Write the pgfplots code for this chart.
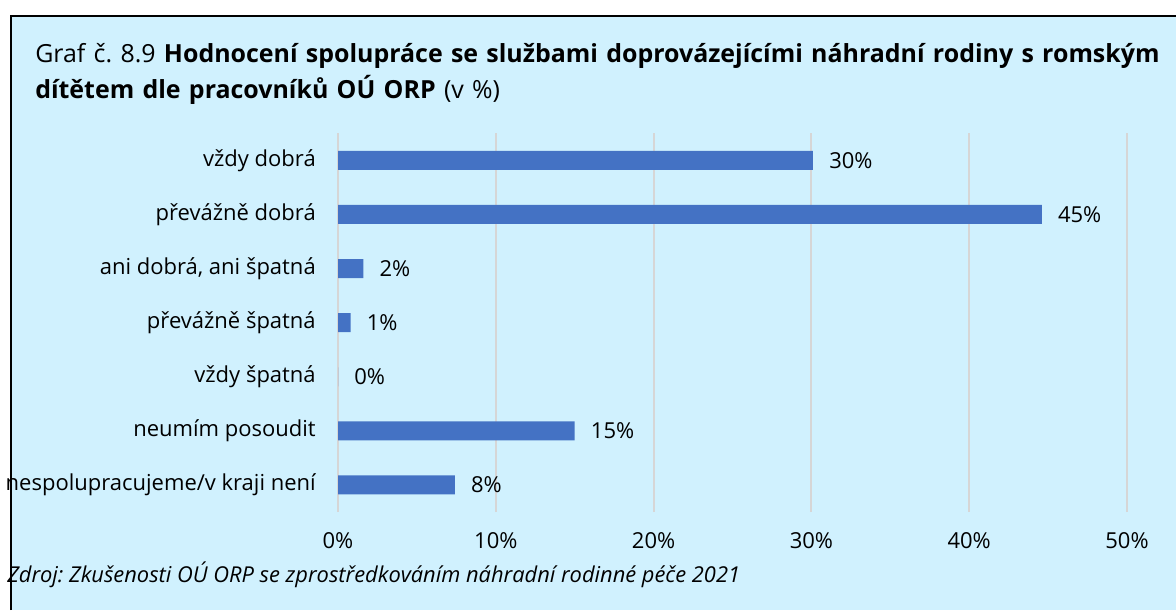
\documentclass[border=0pt]{standalone}
\usepackage{pgfplots}
\pgfplotsset{compat=1.18}
\usepackage{fontspec}
\setmainfont{Open Sans}
\frenchspacing
\definecolor{bgblue}{HTML}{D0F1FE}
\definecolor{barblue}{HTML}{4472C4}
\definecolor{gridgray}{HTML}{D6D6D6}
\begin{document}
\begin{tikzpicture}[x=0.75pt,y=0.75pt]
\useasboundingbox (0,0) rectangle (1176,610);
\path[fill=white] (0,0) rectangle (1176,610);
\path[fill=bgblue] (11,0) rectangle (1176,594);
\draw[line width=2.2pt] (11,0) -- (11,594) -- (1176,594);
\node[anchor=base west, align=left, text width=858pt, font=\fontsize{18.7}{26.5}\selectfont, inner sep=0pt] at (35,547)
 {Graf č. 8.9 \textbf{Hodnocení spolupráce se službami doprovázejícími náhradní rodiny s romským dítětem dle pracovníků OÚ ORP} (v \%)};
\begin{axis}[
  at={(253.5pt,73.5pt)}, anchor=south west,
  scale only axis,
  width=591.75pt, height=284pt,
  xmin=0, xmax=50, ymin=-0.5, ymax=6.5,
  axis line style={draw=none},
  xmajorgrids, grid style={gridgray, line width=1.4pt},
  xtick={0,10,...,50},
  xticklabels={0\%,10\%,20\%,30\%,40\%,50\%},
  ytick={0,...,6},
  yticklabels={nespolupracujeme/v kraji není,neumím posoudit,vždy špatná,převážně špatná,{ani dobrá, ani špatná},převážně dobrá,vždy dobrá},
  major tick length=0pt,
  ticklabel style={font=\fontsize{16.5}{18}\selectfont, inner sep=0pt},
  xticklabel style={anchor=base, yshift=-27pt},
  yticklabel style={anchor=east, xshift=-16.5pt},
  xbar, bar width=14.25pt,
  bar shift=0pt,
  point meta=explicit symbolic,
  nodes near coords,
  nodes near coords style={anchor=west, inner sep=0pt, xshift=12pt, font=\fontsize{16.5}{18}\selectfont},
  clip=false,
]
\addplot[fill=barblue, draw=none] table[meta=lab] {
x y lab
30.1 6 30\%
44.6 5 45\%
1.6 4 2\%
0.8 3 1\%
0 2 0\%
15.0 1 15\%
7.4 0 8\%
};
\end{axis}
\node[anchor=base west, inner sep=0pt, font=\fontsize{16.4}{18}\selectfont\itshape] at (7,28) {Zdroj: Zkušenosti OÚ ORP se zprostředkováním náhradní rodinné péče 2021};
\end{tikzpicture}
\end{document}
